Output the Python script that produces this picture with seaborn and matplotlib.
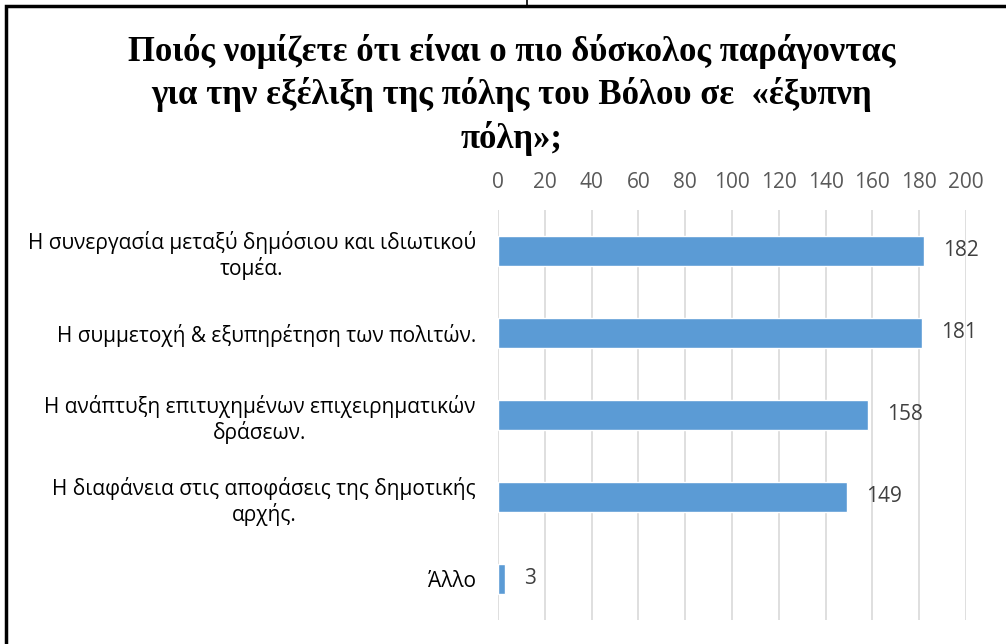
import matplotlib
matplotlib.use("Agg")
import matplotlib.pyplot as plt
import seaborn as sns
import pandas as pd
from matplotlib.patches import Rectangle
from matplotlib.lines import Line2D

categories = [
    "Η συνεργασία μεταξύ δημόσιου και ιδιωτικού\nτομέα.",
    "Η συμμετοχή & εξυπηρέτηση των πολιτών.",
    "Η ανάπτυξη επιτυχημένων επιχειρηματικών\nδράσεων.",
    "Η διαφάνεια στις αποφάσεις της δημοτικής\nαρχής.",
    "Άλλο",
]
values = [182, 181, 158, 149, 3]
xticks = [0, 20, 40, 60, 80, 100, 120, 140, 160, 180, 200]
title = "Ποιός νομίζετε ότι είναι ο πιο δύσκολος παράγοντας\nγια την εξέλιξη της πόλης του Βόλου σε  «έξυπνη\nπόλη»;"

sns.set_theme(style="white")
plt.rcParams['font.family'] = ['Open Sans', 'DejaVu Sans']

df = pd.DataFrame({"cat": categories, "val": values})

fig = plt.figure(figsize=(10.06, 6.44), dpi=100)
ax = fig.add_axes([498/1006, 1-620/644, (966-498)/1006, (620-210)/644])

sns.barplot(data=df, y="cat", x="val", orient="h", color="#5B9BD5",
            saturation=1, width=0.37, ax=ax)

ax.set_xlim(0, 200)
ax.set_xticks(xticks)
ax.xaxis.tick_top()
ax.tick_params(axis='x', length=0, pad=12, labelsize=15, labelcolor='#595959')
ax.tick_params(axis='y', length=0, pad=16, labelsize=15, labelcolor='black')
for lab in ax.get_yticklabels():
    lab.set_multialignment('center')
ax.set_xlabel("")
ax.set_ylabel("")
ax.grid(axis='x', color='#D9D9D9', linewidth=1.2)
ax.grid(axis='y', visible=False)
ax.set_axisbelow(True)
for s in ax.spines.values():
    s.set_visible(False)

for c in ax.containers:
    ax.bar_label(c, padding=14, fontsize=15, color='#404040')

fig.text(512/1006, 1-95/644, title, ha='center', va='center',
         fontsize=25, fontweight='bold', family='Liberation Serif',
         color='black', linespacing=1.3)

# outer frame
fig.patches.append(Rectangle((6/1006, -0.1), 1.1, 1 - 5.5/644 + 0.1,
                             transform=fig.transFigure, fill=False,
                             edgecolor='black', linewidth=2.5))
fig.lines.append(Line2D([527/1006, 527/1006], [1 - 5/644, 1.0],
                        transform=fig.transFigure, color='black', linewidth=1.2))

fig.savefig("out.png", dpi=100)
